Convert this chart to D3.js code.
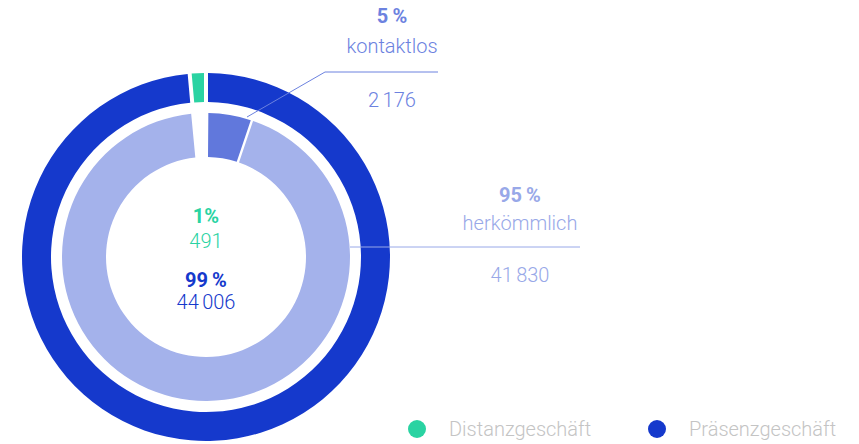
<!DOCTYPE html>
<html>
<head>
<meta charset="utf-8">
<script src="https://cdn.jsdelivr.net/npm/d3@7"></script>
<style>
  body { margin: 0; background: #fff; }
  svg text { font-family: Roboto, "Noto Sans", sans-serif; }
</style>
</head>
<body>
<svg id="chart" width="859" height="444"></svg>
<script>
// outer ring: Vertriebsweg
const channels = ["Präsenzgeschäft", "Distanzgeschäft"];
const channelValues = [44006, 491];
const channelPct = ["99\u2009%", "1%"];
const channelColors = ["#1539cc", "#2ad3a2"];

// inner ring: Präsenzgeschäft nach Zahlungsart
const types = ["kontaktlos", "herkömmlich"];
const typeValues = [2176, 41830];
const typePct = ["5\u2009%", "95\u2009%"];
const typeColors = ["#6178dc", "#a4b2eb"];
const typeTextColors = ["#6c82df", "#98a8e8"];

const fmt = v => d3.format(",")(v).replace(/,/g, "\u2006");

const svg = d3.select("#chart");
const cx = 206, cy = 257;
const g = svg.append("g").attr("transform", `translate(${cx},${cy})`);

const tau = 2 * Math.PI;

const outerPie = d3.pie().sort(null).startAngle(0).endAngle(tau).padAngle(0.02);
const outerArc = d3.arc().innerRadius(155).outerRadius(184).padRadius(200);
const outer = outerPie(channelValues);

g.selectAll("path.outer")
  .data(outer)
  .join("path")
    .attr("class", "outer")
    .attr("d", outerArc)
    .attr("fill", (d, i) => channelColors[i]);

// inner ring spans the angle of the Präsenz arc
const blue = outer[0];
const innerPie = d3.pie().sort(null)
  .startAngle(blue.startAngle + 0.008)
  .endAngle(blue.endAngle - 0.006)
  .padAngle(0.012);
const innerArc = d3.arc().innerRadius(100).outerRadius(144).padRadius(200);
const inner = innerPie(typeValues);

g.selectAll("path.inner")
  .data(inner)
  .join("path")
    .attr("class", "inner")
    .attr("d", innerArc)
    .attr("fill", (d, i) => typeColors[i]);

// center labels
const center = [
  { t: channelPct[1], y: 223, c: channelColors[1], w: 700 },
  { t: fmt(channelValues[1]), y: 248, c: channelColors[1], w: 300 },
  { t: channelPct[0], y: 287, c: channelColors[0], w: 700 },
  { t: fmt(channelValues[0]), y: 309, c: channelColors[0], w: 300 }
];
svg.selectAll("text.center")
  .data(center)
  .join("text")
    .attr("class", "center")
    .attr("x", cx)
    .attr("y", d => d.y)
    .attr("text-anchor", "middle")
    .attr("font-size", 20)
    .attr("font-weight", d => d.w)
    .attr("fill", d => d.c)
    .text(d => d.t);

// leader lines
svg.append("path")
  .attr("d", d3.line()([[247, 117], [325, 72], [438, 72]]))
  .attr("fill", "none")
  .attr("stroke", typeTextColors[0])
  .attr("stroke-width", 1);

svg.append("path")
  .attr("d", d3.line()([[350, 247], [580, 247]]))
  .attr("fill", "none")
  .attr("stroke", typeTextColors[1])
  .attr("stroke-width", 1);

// side labels
const sideLabels = [
  { x: 392, ys: [23, 53, 107], i: 0 },
  { x: 520, ys: [202, 230, 282], i: 1 }
];
sideLabels.forEach(s => {
  const rows = [
    { t: typePct[s.i], w: 700 },
    { t: types[s.i], w: 300 },
    { t: fmt(typeValues[s.i]), w: 300 }
  ];
  svg.selectAll(null)
    .data(rows)
    .join("text")
      .attr("x", s.x)
      .attr("y", (d, j) => s.ys[j])
      .attr("text-anchor", "middle")
      .attr("font-size", 20)
      .attr("font-weight", d => d.w)
      .attr("fill", typeTextColors[s.i])
      .text(d => d.t);
});

// legend
const legendOrder = [1, 0];
const legend = svg.selectAll("g.legend")
  .data(legendOrder)
  .join("g")
    .attr("class", "legend")
    .attr("transform", (d, k) => `translate(${417 + k * 240},429)`);
legend.append("circle")
  .attr("r", 9)
  .attr("fill", d => channelColors[d]);
legend.append("text")
  .attr("x", 32)
  .attr("y", 7)
  .attr("font-size", 20)
  .attr("font-weight", 300)
  .attr("fill", "#c4c4c4")
  .text(d => channels[d]);
</script>
</body>
</html>
